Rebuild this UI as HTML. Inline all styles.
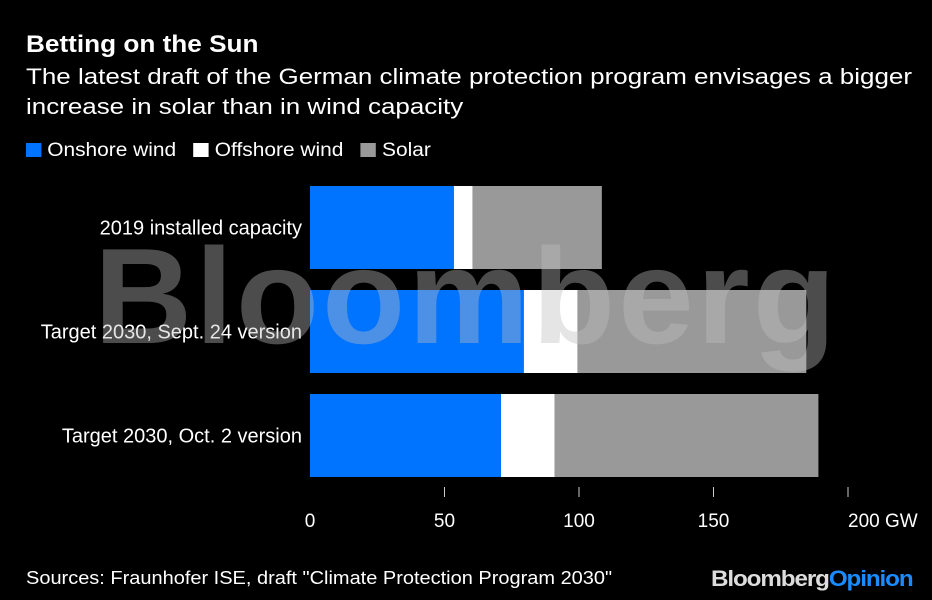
<!DOCTYPE html>
<html><head><meta charset="utf-8"><style>
body{margin:0;background:#000;width:932px;height:600px;overflow:hidden;font-family:"Liberation Sans",sans-serif;color:#fff;position:relative}
.t{position:absolute;white-space:nowrap;transform-origin:0 0}
</style></head><body>
<div class="t" style="left:26px;top:31px;font-size:24px;font-weight:bold;transform:scaleX(1.09)">Betting on the Sun</div>
<div class="t" style="left:26px;top:62px;font-size:22px;line-height:30px;transform:scaleX(1.18)">The latest draft of the German climate protection program envisages a bigger<br>increase in solar than in wind capacity</div>
<div class="t" style="left:26px;top:140px;font-size:19px;transform:scaleX(1.1)">
<span><span style="display:inline-block;width:14px;height:14px;background:#0073ff;vertical-align:-1px"></span> Onshore wind</span>&nbsp;&nbsp;
<span><span style="display:inline-block;width:14px;height:14px;background:#fff;vertical-align:-1px"></span> Offshore wind</span>&nbsp;&nbsp;
<span><span style="display:inline-block;width:14px;height:14px;background:#999;vertical-align:-1px"></span> Solar</span>
</div>
<svg id="c" width="932" height="600" style="position:absolute;left:0;top:0"></svg>
<div class="t" style="left:94px;top:218px;font-size:136px;font-weight:bold;color:rgba(190,190,190,0.4);letter-spacing:3px">Bloomberg</div>
<div class="t" style="left:26px;top:568px;font-size:18px;transform:scaleX(1.11)">Sources: Fraunhofer ISE, draft "Climate Protection Program 2030"</div>
<div class="t" style="left:711px;top:566px;font-size:22px;font-weight:bold;letter-spacing:-1px;transform:scaleX(1.1)"><span style="color:#ddd">Bloomberg</span><span style="color:#1a8cff">Opinion</span></div>
<script>
const categories=["2019 installed capacity","Target 2030, Sept. 24 version","Target 2030, Oct. 2 version"];
const onshore=[53.5,79.5,71];
const offshore=[7,20,20];
const solar=[48,85,98];
const ticks=[0,50,100,150,200];
const tickLabels=["0","50","100","150","200 GW"];
const svg=document.getElementById('c');const NS='http://www.w3.org/2000/svg';
const x=v=>310+v*(848-310)/200;
const yTop=i=>186+i*104;const bh=83;
function mk(t,a){const e=document.createElementNS(NS,t);for(const k in a)e.setAttribute(k,a[k]);svg.appendChild(e);return e;}
const series=[[onshore,'#0073ff','onshore'],[offshore,'#ffffff','offshore'],[solar,'#999999','solar']];
categories.forEach((c,i)=>{let acc=0;
series.forEach(([arr,col,n])=>{const r=mk('rect',{x:x(acc),y:yTop(i),width:x(acc+arr[i])-x(acc),height:bh,fill:col});

acc+=arr[i];});
const t=mk('text',{x:302,y:yTop(i)+bh/2+7,'text-anchor':'end','font-size':20,fill:'#fff','font-family':'Liberation Sans'});t.textContent=c;

});
ticks.forEach((v,i)=>{if(v>0){const l=mk('line',{x1:x(v),x2:x(v),y1:487,y2:497,stroke:'#ccc','stroke-width':1});

}
const t=mk('text',{x:x(v),y:527,'text-anchor':i==ticks.length-1?'start':'middle','font-size':19,fill:'#fff','font-family':'Liberation Sans'});
if(i==ticks.length-1)t.setAttribute('x',x(v));
t.textContent=tickLabels[i];

});
</script>
</body></html>
